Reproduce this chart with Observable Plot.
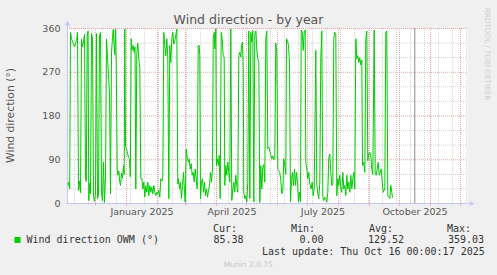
<!DOCTYPE html>
<html>
<head>
<meta charset="utf-8">
<script src="https://cdn.jsdelivr.net/npm/d3@7"></script>
<script src="https://cdn.jsdelivr.net/npm/@observablehq/plot@0.6"></script>
<style>
  html, body { margin: 0; padding: 0; background: #f0f0f0; }
  #chart { width: 497px; height: 275px; }
</style>
</head>
<body>
<div id="chart"></div>
<script>
// Days since 2024-11-01 (one pixel per day in the source graph)
const days = [
  1.7,2.5,3.3,4.2,5,6,7,8,9,10,11,12,13,14,15,16,17,18,19,20,20.8,21.7,22.5,23.3,24.2,25,26,27,28,29,30,31,32,33,34,35,36,37,38,39,40,
  41,42,43,44,45,46,47,47.7,48.5,49.3,50,50.8,51.7,52.5,53.3,54.2,55,56,57,58,58.7,59.3,60,61,62,63,64,64.8,65.7,
  66.7,67.7,68.7,69.5,70.3,71.3,72.3,73.3,74.3,75.3,76.3,77.3,78.3,79.3,80.3,81.3,82.3,83.3,84.3,85.3,86.3,87.3,88.3,89.3,90.3,
  91.3,92.3,93.3,94.3,95.3,96.3,97.3,98.3,99.3,100.3,101.3,102.3,103.3,104.3,105.3,106.3,107.3,108.3,109.3,110.3,111.3,112.3,
  113,114,115,116,117,118,119,119.7,120.7,122,123,123.7,124.7,125.7,126.7,127.7,128.7,129.7,130.7,131.7,132.7,133.7,134.3,
  135,136,137,138,139,140,141,142,143,144,145,146,147,147.7,148.7,149.3,150.3,151,152,153,153.7,154.7,155.7,156.7,157.7,158.7,
  159.3,160.3,161.3,162.3,163.3,164.3,165.3,166.3,167.3,168.3,169.3,170.3,171.3,172.3,173.3,174.3,175.3,176,177,177.7,
  178.3,179.3,180.3,181.3,182.3,183.3,184.3,185.3,186.3,187.3,188.3,189.3,190.3,191.3,192.3,193.3,194.3,195.3,196.3,197.3,
  198.3,199.3,200.3,201.3,202.3,203.3,204.3,205.3,206.3,207.3,208.3,209.3,210.3,211.3,212.3,213.3,214.3,215.3,216.3,217.3,
  218.3,219.3,220.3,221,222,223,224,225,226,227,228,229,230,231,232,233,234,235,235.7,236.7,237.7,238.7,239.7,240.3,241.3,
  242.3,243.3,244.3,245.7,246.7,247.7,248.7,250.3,251.3,252.3,253.3,254.3,255.3,256.3,257.3,258.3,259.3,260.3,261.3,262.3,
  263.3,264.3,265.3,266.3,267.3,268.3,269.3,270.3,271.3,272.3,273.3,274.3,275.3,276.3,277.3,278.3,279.3,280.3,281.3,282.3,
  283.3,284.3,285.3,286.3,287.3,288.3,289.3,290.3,291.3,292.3,293.3,294.3,295.3,296.3,297,298.3,299.3,300.3,301.3,302.3,
  303.3,304.3,305.3,306.3,307.3,308.7,309.7,310.7,311.7,312.7,313.7,314.7,315.7,316.7,317.7,319.3,320.3,321.3,322.3,323.3,
  324.3,325.3,326.3,327
];
// Wind direction (°)
const direction = [
  40,36,44,30,352,340,332,328,322,330,336,352,27,46,22,338,322,332,348,52,45,345,355,6,42,20,350,340,15,4,22,350,10,18,345,352,22,5,85,2,55,
  338,300,265,225,20,311,340,358,330,306,359,277,71,58,67,45,37,62,52,78,60,359,118,112,104,94,92,55,339,
  315,325,311,322,30,308,330,298,280,51,52,30,44,13,37,23,44,16,37,23,34,20,37,23,16,
  23,20,27,13,51,46,54,352,325,304,339,298,10,325,290,339,352,328,335,346,359,40,
  51,30,44,10,37,64,23,3,112,92,85,92,71,82,58,64,44,71,51,30,325,325,304,
  10,44,51,23,44,16,30,13,27,37,64,44,71,339,352,318,359,78,92,78,99,10,352,339,304,301,
  37,78,58,85,64,44,359,6,30,44,23,58,37,23,304,311,301,325,332,284,
  23,10,16,3,44,355,10,352,332,356,3,349,355,318,298,290,2,78,30,75,
  80,44,340,355,113,116,108,100,92,98,90,95,330,308,70,68,64,47,20,25,
  92,78,60,339,335,325,290,3,51,64,37,71,37,64,44,3,23,3,357,353,315,353,357,85,71,
  51,64,40,30,44,16,30,315,40,20,10,44,300,355,13,6,13,10,3,23,
  95,102,64,37,40,340,352,349,16,51,37,58,30,23,64,30,37,16,58,30,
  44,23,58,30,51,64,30,339,298,304,290,300,285,295,78,85,64,339,355,88,
  102,105,98,70,60,357,64,58,71,85,58,64,71,44,23,30,352,355,16,13,
  10,37,23,13
];
const yMajor = [0, 90, 180, 270, 360];
const yMinor = [30, 60, 120, 150, 210, 240, 300, 330];
// first day of each month, Dec 2024 .. Dec 2025
const monthStarts = [30, 61, 92, 120, 151, 181, 212, 242, 273, 304, 334, 365, 395];
const xLabelDays = [76.5, 166.5, 257.5, 349.5];
const xLabels = ["January 2025", "April 2025", "July 2025", "October 2025"];
const nowDay = 349.3;
const legendName = "Wind direction OWM (°)";
const statHeads = ["Cur:", "Min:", "Avg:", "Max:"];
const statValues = ["85.38", "0.00", "129.52", "359.03"];
const lastUpdate = "Last update: Thu Oct 16 00:00:17 2025";

const data = days.map((d, i) => ({d, v: direction[i]}));
const minorX = d3.range(9, 402, 14);
const labelMap = new Map(xLabelDays.map((d, i) => [d, xLabels[i]]));

const axisColor = "#c3c8f2";
const majorColor = "#e9a3a3";
const minorColor = "#d4d4d4";
const green = "#00cc00";

const triUp = {draw(ctx, size) { const r = Math.sqrt(size / Math.PI); ctx.moveTo(0, -r * 1.1); ctx.lineTo(r, r * 0.7); ctx.lineTo(-r, r * 0.7); ctx.closePath(); }};
const triRight = {draw(ctx, size) { const r = Math.sqrt(size / Math.PI); ctx.moveTo(r * 1.1, 0); ctx.lineTo(-r * 0.7, r); ctx.lineTo(-r * 0.7, -r); ctx.closePath(); }};

function label(t, frameAnchor, dx, dy, opts = {}) {
  return Plot.text([t], {text: d => d, frameAnchor, dx, dy, lineAnchor: "middle", textAnchor: "middle", ...opts});
}
const mono = {fontFamily: "DejaVu Sans Mono", fontSize: 10, fill: "#333", textAnchor: "start"};
const statX = [145.5, 223.5, 301.5, 379.5];
const valX = [146, 232, 300.5, 380.5];

const chart = Plot.plot({
  width: 497,
  height: 275,
  marginLeft: 67,
  marginRight: 30,
  marginTop: 28,
  marginBottom: 72,
  x: {type: "linear", domain: [2, 402], label: null},
  y: {domain: [0, 360], label: null},
  style: {background: "#f0f0f0", fontFamily: "DejaVu Sans", fontSize: "9.5px", color: "#555", overflow: "visible"},
  marks: [
    Plot.frame({fill: "white", stroke: "none"}),
    Plot.ruleY(yMinor, {stroke: minorColor, strokeDasharray: "1,1"}),
    Plot.ruleX(minorX, {stroke: minorColor, strokeDasharray: "1,1"}),
    Plot.ruleY(yMajor, {stroke: majorColor, strokeDasharray: "1,1"}),
    Plot.ruleX(monthStarts, {stroke: majorColor, strokeDasharray: "1,1"}),
    Plot.ruleX(minorX, {y1: 0, y2: -3, stroke: minorColor}),
    Plot.ruleX(monthStarts, {y1: 0, y2: -5, stroke: majorColor}),
    Plot.line(data, {x: "d", y: "v", stroke: green, strokeWidth: 1}),
    Plot.ruleX([nowDay], {stroke: "#8c8c8c"}),
    Plot.ruleX([2], {y1: 0, y2: 368, stroke: axisColor}),
    Plot.ruleY([0], {x1: 1, x2: 404, stroke: axisColor}),
    Plot.dot([0], {x: 2, y: 370, symbol: triUp, r: 2.6, fill: axisColor, stroke: "none"}),
    Plot.dot([0], {x: 406, y: 0, symbol: triRight, r: 2.6, fill: axisColor, stroke: "none"}),
    Plot.axisY({ticks: yMajor, tickSize: 0, tickPadding: 7, label: null, fontSize: 9.5}),
    Plot.axisX({ticks: xLabelDays, tickFormat: d => labelMap.get(d), tickSize: 0, tickPadding: 5, label: null, fontSize: 9.5}),
    label("Wind direction - by year", "top", -19, -8.5, {fontSize: 12.5, fill: "#555"}),
    label("Wind direction (°)", "left", -56.5, -0.5, {fontSize: 10.8, fill: "#555", rotate: -90}),
    label("RRDTOOL / TOBI OETIKER", "top-right", 19.7, 25.5, {fontSize: 7.2, fill: "#cfcfcf", rotate: 90}),
    Plot.dot([0], {frameAnchor: "bottom-left", dx: -50, dy: 36.4, symbol: "square", r: 3.4, fill: green, stroke: "none"}),
    label(legendName, "bottom-left", -41, 36.5, mono),
    ...statHeads.map((t, i) => label(t, "bottom-left", statX[i], 25.3, mono)),
    ...statValues.map((t, i) => label(t, "bottom-left", valX[i], 36.5, mono)),
    label(lastUpdate, "bottom-left", 194.5, 48.2, mono),
    label("Munin 2.0.75", "bottom", -19.2, 61, {fontSize: 7.5, fill: "#c8c8c8"})
  ]
});
document.getElementById("chart").appendChild(chart);
</script>
</body>
</html>
